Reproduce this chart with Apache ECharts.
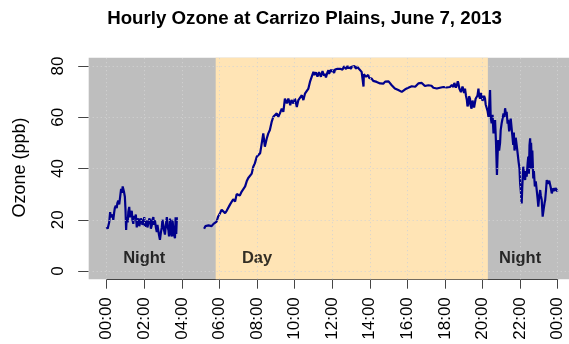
<!DOCTYPE html>
<html>
<head>
<meta charset="utf-8">
<title>Hourly Ozone at Carrizo Plains</title>
<script src="https://cdn.jsdelivr.net/npm/echarts@6/dist/echarts.min.js"></script>
<style>
  html, body { margin: 0; padding: 0; background: #ffffff; }
  #chart { width: 569px; height: 344px; }
</style>
</head>
<body>
<div id="chart"></div>
<script>
// Ozone readings, [minutes after midnight, ppb]. The monitor was offline
// between roughly 03:45 and 05:10, so the day is split in two segments.
const earlyReadings = [
  [0,17.3],[3,16.5],[5,16],[8,19],[11,23],[13,21],[16,20.6],[19,22],[21,20],[24,23],
  [26,24.6],[29,25.5],[32,24.5],[34,26.5],[37,27.5],[40,26],[43,29],[46,32],[49,30.5],[51,33],
  [53,33.6],[55,31],[58,29],[60,24],[62,16],[64,21],[67,19],[69,23],[72,25],[74,21],
  [77,22.5],[80,23.5],[82,20],[85,18.4],[87,21.5],[90,20.5],[93,22],[96,17],[98,19.5],[101,20.5],
  [104,17.5],[106,18.5],[109,20.5],[112,19.7],[114,18],[117,19],[120,21],[122,17.3],[125,18.5],[128,19.7],
  [130,17],[133,18.5],[136,20.5],[139,19.7],[141,16.5],[144,17.8],[146,20],[149,21],[151,18],[154,19.7],
  [157,17],[160,15.2],[162,18],[165,17.3],[167,14],[170,12.2],[173,15],[176,17],[178,20],[181,19.7],
  [183,16],[186,14.2],[189,18],[192,21],[194,17.5],[197,16],[199,13.5],[202,20.5],[204,15],[208,13.5],
  [210,20],[213,19.7],[215,14],[218,12.8],[220,21],[222,14.5],[224,21]
];

const laterReadings = [
  [311,16.5],[315,17.5],[319,17],[325,17.8],[330,18],[335,17.5],[341,18.4],[346,18.7],[351,19.3],[356,21.3],
  [362,22.6],[367,23.9],[372,24],[378,22.6],[383,23.5],[388,23.2],[394,26],[399,26.5],[404,28],[410,27.1],
  [415,30],[420,30.4],[425,29.5],[431,31],[436,31.5],[442,33],[447,35],[452,36.3],[458,36.5],[463,38],
  [468,40.7],[473,42],[479,44.6],[484,45.3],[490,46],[495,49.8],[500,53.7],[505,48.5],[511,51.7],[516,53.7],
  [521,55],[527,58.3],[532,60.2],[538,60.8],[543,61.5],[548,60.2],[553,61.5],[559,63.4],[564,62.1],[569,67.3],
  [575,65.4],[580,67.3],[586,64.7],[590,66.7],[596,65.4],[601,67.3],[607,64],[612,66.7],[617,67.3],[623,68.6],
  [628,66.7],[633,69.2],[638,69.9],[644,71.2],[649,73.8],[655,73.2],[660,77.7],[663,76.5],[665,75.8],[668,77.5],
  [671,77.1],[673,75.9],[676,76],[678,77.6],[681,77.1],[684,75.8],[686,76.5],[689,78],[692,77.7],[694,76.2],
  [697,77],[700,75.5],[703,75.8],[705,77.6],[708,78.4],[710,77],[713,77.5],[716,78.6],[718,77.7],[721,78.5],
  [724,78.2],[726,77.3],[729,78.6],[732,79],[734,78],[737,78.9],[740,78.4],[743,79.3],[745,78.9],[748,79.6],
  [751,79.3],[753,78.6],[755,79],[758,79.9],[761,79.7],[764,78.8],[766,79.2],[769,80],[772,79],[775,79.8],
  [777,79.6],[780,78.9],[782,79.7],[785,79],[788,79.1],[791,80],[793,79.3],[796,78.9],[799,79.8],[801,79.1],
  [803,79.5],[806,78.8],[809,79],[812,78.4],[814,77.7],[818,77.5],[820,72],[821,76.8],[825,77.1],[828,75.8],
  [830,76.2],[833,75.4],[835,76.5],[838,75.3],[841,75.8],[846,75.1],[851,74.2],[857,74.5],[862,73.8],[868,74.5],
  [873,73.2],[878,72.5],[883,73.1],[889,73.9],[894,73.2],[900,74],[905,73.8],[910,72.5],[916,72],[920,71.2],
  [926,71.8],[931,70.6],[937,71.2],[942,69.9],[947,70.6],[953,70.9],[958,71.2],[963,71.5],[968,71.8],[974,72.1],
  [979,72.5],[985,71.9],[990,72.5],[995,73.2],[1000,72.6],[1006,73.4],[1011,72.8],[1016,72.2],[1022,72.8],[1027,72.5],
  [1032,71.9],[1037,72.3],[1043,71.5],[1048,71.8],[1054,71.2],[1059,71.9],[1064,71.5],[1069,72],[1075,71.8],[1080,72.2],
  [1085,71.6],[1091,72.3],[1096,71.8],[1102,72.6],[1107,71.8],[1110,73.4],[1112,73],[1115,71.6],[1118,72.5],[1121,74],
  [1123,73.2],[1126,71.2],[1128,71.5],[1131,69.8],[1133,70.6],[1136,72],[1138,71.2],[1141,69.5],[1144,71.2],[1147,68.5],
  [1150,66.7],[1152,64.2],[1155,65.4],[1157,68.2],[1160,67.3],[1162,64.5],[1165,63.4],[1168,66.5],[1171,66],[1173,63.8],
  [1176,64],[1178,67.2],[1181,66.7],[1184,68.5],[1187,71.2],[1189,68.3],[1192,67.3],[1195,69.5],[1198,68],[1200,66.4],
  [1202,66],[1205,68.4],[1208,67.3],[1210,65],[1213,65.4],[1216,62.5],[1219,60.2],[1221,64],[1224,70.6],[1226,60.2],
  [1229,57.6],[1232,61],[1235,53.7],[1238,57],[1240,58.9],[1243,50],[1246,37.5],[1248,45],[1250,51.1],[1253,47],
  [1256,50],[1258,55],[1261,57.6],[1264,59.5],[1267,61.5],[1270,60],[1272,63.5],[1275,61],[1277,62.1],[1280,57.5],
  [1282,59],[1285,54.5],[1288,56.3],[1290,59.5],[1293,58.9],[1295,53],[1298,49.2],[1300,54],[1302,47],[1304,48.5],
  [1306,52],[1309,49.1],[1312,46],[1315,42.7],[1318,40],[1320,34.2],[1323,30],[1325,26.4],[1327,33],[1330,40.7],
  [1333,37],[1336,35.5],[1338,39],[1341,36.8],[1344,42],[1346,44.6],[1348,38],[1350,49],[1352,51.8],[1354,40],
  [1355,50],[1357,43.3],[1359,47],[1362,36.1],[1364,39],[1367,33],[1370,35],[1373,31.6],[1376,28],[1378,25.1],
  [1381,29],[1384,31.6],[1386,29.5],[1389,27.7],[1392,21.2],[1395,24],[1398,26.5],[1400,27.7],[1403,32],[1405,35.5],
  [1408,34],[1410,33.5],[1413,35.2],[1415,34.8],[1418,32.5],[1421,30.3],[1424,31.5],[1426,32.3],[1430,31.2],[1433,32.4],
  [1435,32.9],[1437,31.6],[1439,31]
];

// Daylight window (minutes after midnight)
const sunriseMinute = 348;
const sunsetMinute = 1217;

// Axis ticks
const timeTickLabels = ['00:00','02:00','04:00','06:00','08:00','10:00','12:00',
                        '14:00','16:00','18:00','20:00','22:00','00:00'];
const tickStepMinutes = 120;
const ozoneTicks = [0, 20, 40, 60, 80];

// Period captions
const periodNames = ['Night', 'Day', 'Night'];
const periodCenters = [120, 480, 1320];
const periodCaptionLevel = 5;

// Layout: the time axis spans 00:00..24:00 over AXIS_W pixels; the shaded
// plot region starts 4% of the day before midnight and runs off the right edge.
const dayMinutes = 1440;
const AXIS_LEFT = 106.7, AXIS_W = 451;
const BOX_LEFT = 88.7, BOX_RIGHT = 569;
const pxPerMinute = AXIS_W / dayMinutes;
const xLo = (BOX_LEFT - AXIS_LEFT) / pxPerMinute;
const xHi = (BOX_RIGHT - AXIS_LEFT) / pxPerMinute;
const yLo = -80 * 0.04, yHi = 80 * 1.04;

const FONT = '"Liberation Sans", Arial, Helvetica, sans-serif';
const chart = echarts.init(document.getElementById('chart'), null, { renderer: 'canvas' });

const gridLines = [];
timeTickLabels.forEach((_, i) => {
  const m = i * tickStepMinutes;
  gridLines.push([{ coord: [m, yLo] }, { coord: [m, yHi] }]);
});
ozoneTicks.forEach(v => {
  gridLines.push([{ coord: [xLo, v] }, { coord: [xHi, v] }]);
});

const lineStyle = { color: '#00008B', width: 2.2 };

chart.setOption({
  animation: false,
  backgroundColor: '#ffffff',
  graphic: [
    {
      type: 'text', x: 304.5, y: 18.5, silent: true,
      style: {
        text: 'Hourly Ozone at Carrizo Plains, June 7, 2013',
        font: 'bold 18.7px ' + FONT, fill: '#000',
        textAlign: 'center', textVerticalAlign: 'middle'
      }
    },
    {
      type: 'text', x: 20, y: 167.5, rotation: Math.PI / 2, silent: true,
      style: {
        text: 'Ozone (ppb)',
        font: '18px ' + FONT, fill: '#000',
        textAlign: 'center', textVerticalAlign: 'middle'
      }
    }
  ],
  grid: [
    // plot region with night shading as its background
    { left: BOX_LEFT, top: 57.8, width: BOX_RIGHT - BOX_LEFT, height: 221.4, show: true,
      backgroundColor: '#BEBEBE', borderWidth: 0 },
    // time axis, spanning 00:00 .. 24:00, drawn just under the plot region
    { left: AXIS_LEFT, top: 66, width: AXIS_W, height: 213.7 },
    // ozone axis, spanning 0 .. 80 ppb
    { left: BOX_LEFT, top: 66, width: AXIS_W, height: 205 }
  ],
  xAxis: [
    { gridIndex: 0, type: 'value', min: xLo, max: xHi, show: false },
    {
      gridIndex: 1, type: 'value', min: 0, max: dayMinutes, interval: tickStepMinutes,
      axisLine: { show: true, onZero: false, lineStyle: { color: '#444', width: 1 } },
      axisTick: { show: true, length: 9, lineStyle: { color: '#444', width: 1 } },
      splitLine: { show: false },
      axisLabel: {
        show: true, rotate: 90, margin: 17.5, fontSize: 17, color: '#000', fontFamily: FONT,
        showMinLabel: true, showMaxLabel: true,
        formatter: v => timeTickLabels[Math.round(v / tickStepMinutes)]
      }
    },
    { gridIndex: 2, type: 'value', min: 0, max: 1, show: false }
  ],
  yAxis: [
    { gridIndex: 0, type: 'value', min: yLo, max: yHi, show: false },
    { gridIndex: 1, type: 'value', min: 0, max: 1, show: false },
    {
      gridIndex: 2, type: 'value', min: 0, max: 80, interval: 20, position: 'left',
      axisLine: { show: false, onZero: false },
      axisTick: { show: true, length: 10.5, lineStyle: { color: '#444', width: 1 } },
      splitLine: { show: false },
      axisLabel: {
        show: true, rotate: 90, margin: 22, fontSize: 17, color: '#000', fontFamily: FONT,
        showMinLabel: true, showMaxLabel: true
      }
    }
  ],
  series: [
    {
      name: 'daylight', type: 'line', xAxisIndex: 0, yAxisIndex: 0, data: [], z: 1, silent: true,
      markArea: {
        silent: true,
        itemStyle: { color: '#FFE4B5', borderWidth: 0 },
        data: [[{ coord: [sunriseMinute, yLo] }, { coord: [sunsetMinute, yHi] }]]
      }
    },
    {
      name: 'grid', type: 'line', xAxisIndex: 0, yAxisIndex: 0, data: [], z: 2, silent: true,
      markLine: {
        silent: true, symbol: ['none', 'none'], label: { show: false },
        lineStyle: { color: '#D3D3D3', width: 1, type: [1, 3] },
        emphasis: { disabled: true },
        data: gridLines
      }
    },
    {
      name: 'periods', type: 'scatter', xAxisIndex: 0, yAxisIndex: 0, z: 3, silent: true,
      symbolSize: 0,
      label: {
        show: true, position: 'inside', formatter: '{b}',
        fontSize: 16.5, fontWeight: 'bold', color: '#000', fontFamily: FONT
      },
      data: periodNames.map((n, i) => ({ name: n, value: [periodCenters[i], periodCaptionLevel] }))
    },
    {
      name: 'ozone-early', type: 'line', xAxisIndex: 0, yAxisIndex: 0, z: 4,
      showSymbol: false, symbol: 'none', lineStyle, data: earlyReadings
    },
    {
      name: 'ozone-later', type: 'line', xAxisIndex: 0, yAxisIndex: 0, z: 4,
      showSymbol: false, symbol: 'none', lineStyle, data: laterReadings
    }
  ]
});
</script>
</body>
</html>
